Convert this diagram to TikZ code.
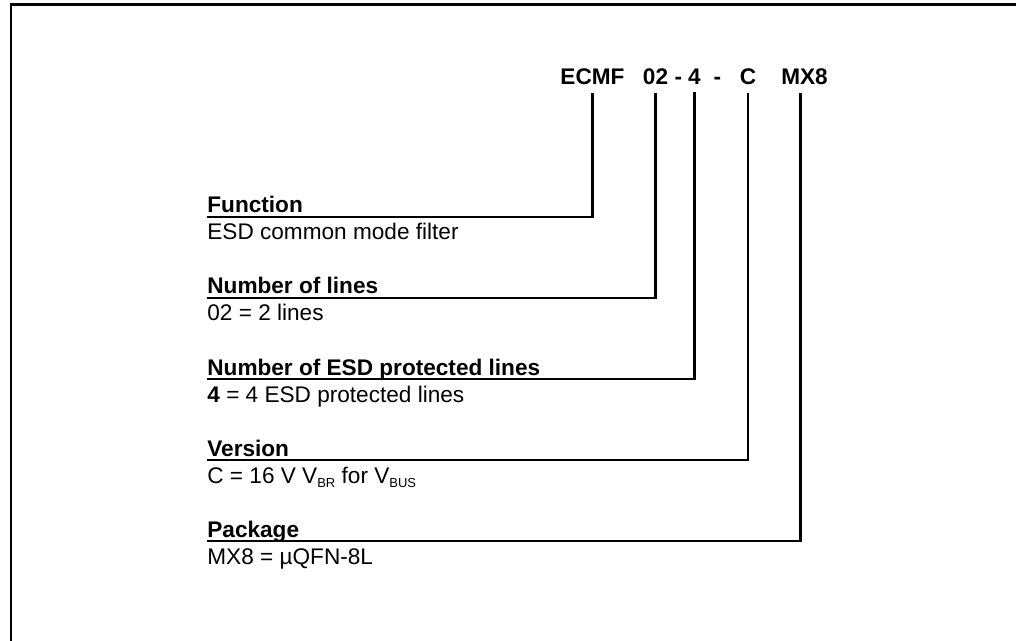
\documentclass[tikz,border=0pt]{standalone}
\usepackage{fontspec}
\setmainfont{Liberation Sans}
\newcommand{\lowsub}[1]{\raisebox{-2pt}{\fontsize{6.5}{7}\selectfont #1}}
\begin{document}
\begin{tikzpicture}[x=0.5pt,y=-0.5pt]
  \tikzset{code/.style={font=\bfseries,inner xsep=0pt,inner ysep=3.5pt,anchor=base},
    title/.style={font=\bfseries,inner sep=0pt,anchor=base west},
    desc/.style={inner sep=0pt,anchor=base west},
    lead/.style={line width=1.1pt}}
  \def\gap{40.5pt}\def\sub{13.5pt}\fontsize{11.3}{13}\selectfont
  \useasboundingbox (0,0) rectangle (1016,641);
  \clip (0,0) rectangle (1016,641);
  \draw[line width=1.4pt] (11,660) |- (1030,4.5);
  %part number
  \node[code] at (592.5,85) (ECMF) {ECMF};
  \node[code] at (655.5,85) (NUM) {02};
  \node[code] at (678.5,85) (DASHA) {-};
  \node[code] at (694.5,85) (ESD) {4};
  \node[code] at (717.5,85) (DASHB) {-};
  \node[code] at (748,85) (VER) {C};
  \node[code] at (804.5,85) (PKG) {MX8};
  %fields
  \node[title] at (207,213) (FUNC) {Function};
  \node[desc] at (FUNC.base west)[yshift=-\sub] (FUNCD) {ESD common mode filter};
  \node[title] at (FUNC.base west)[yshift=-\gap] (LINES) {Number of lines};
  \node[desc] at (LINES.base west)[yshift=-\sub] (LINESD) {02 = 2 lines};
  \node[title] at (LINES.base west)[yshift=-\gap] (PROT) {Number of ESD protected lines};
  \node[desc] at (PROT.base west)[yshift=-\sub] (PROTD) {\textbf{4} = 4 ESD protected lines};
  \node[title] at (PROT.base west)[yshift=-\gap] (VERS) {Version};
  \node[desc] at (VERS.base west)[yshift=-\sub] (VERSD) {C = 16 V V\lowsub{BR} for V\lowsub{BUS}};
  \node[title] at (VERS.base west)[yshift=-\gap] (PACK) {Package};
  \node[desc] at (PACK.base west)[yshift=-\sub] (PACKD) {MX8 = µQFN-8L};
  %links
  \draw[lead] (ECMF.south) |- ([yshift=-2pt]FUNC.base west);
  \draw[lead] (NUM.south) |- ([yshift=-2pt]LINES.base west);
  \draw[lead] (ESD.south) |- ([yshift=-2pt]PROT.base west);
  \draw[lead] (VER.south) |- ([yshift=-2pt]VERS.base west);
  \draw[lead] ([xshift=-2pt]PKG.south) |- ([yshift=-2pt]PACK.base west);
\end{tikzpicture}
\end{document}
